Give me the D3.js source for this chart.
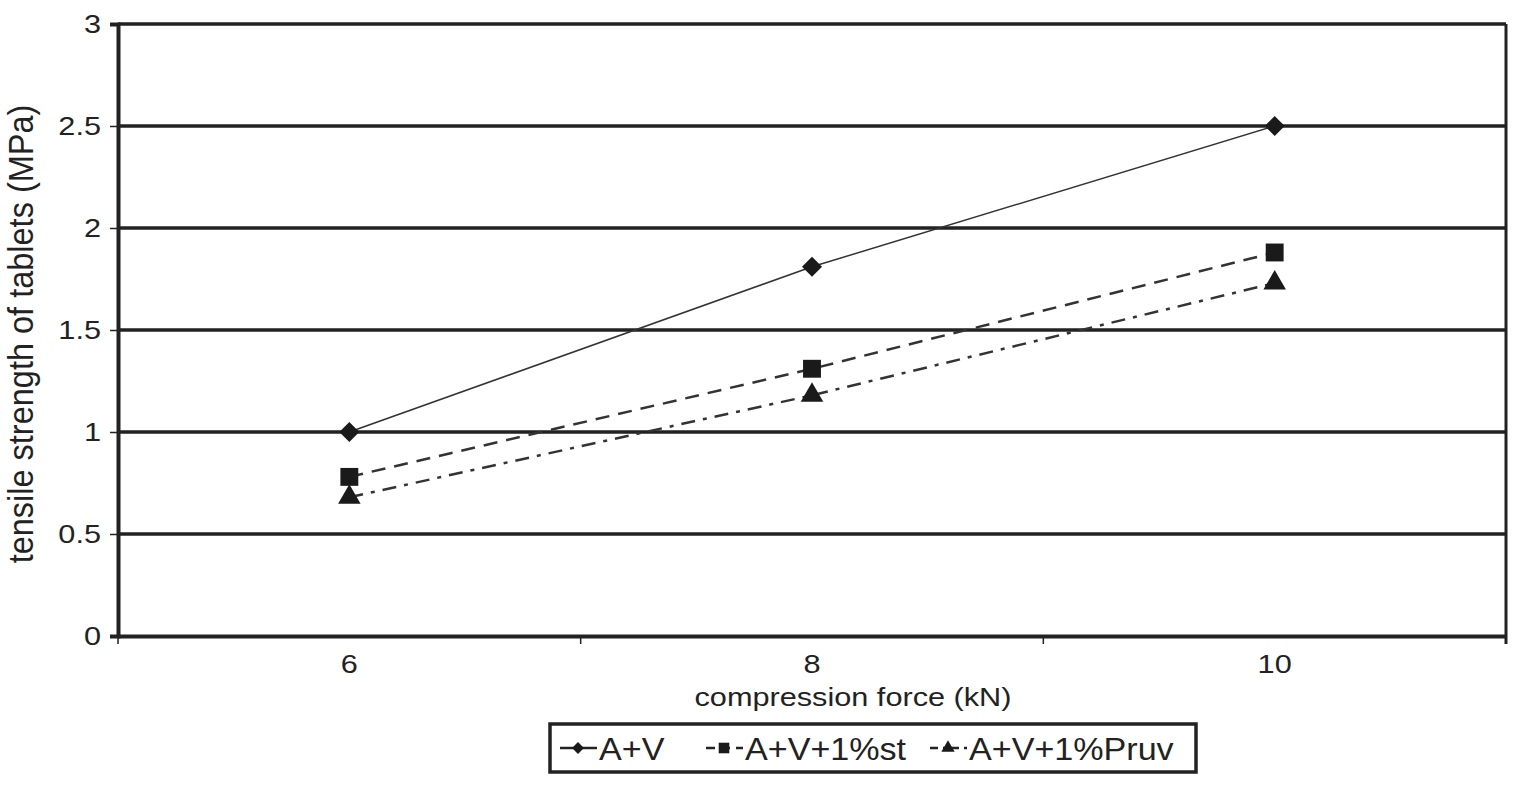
<!DOCTYPE html>
<html>
<head>
<meta charset="utf-8">
<script src="https://cdn.jsdelivr.net/npm/d3@7"></script>
<style>
  body { margin: 0; background: #fff; }
  text { font-family: "Liberation Sans", Arial, sans-serif; fill: #222; }
</style>
</head>
<body>
<svg id="chart" width="1524" height="800"></svg>
<script>
const categories = [6, 8, 10]
const seriesNames = ["A+V", "A+V+1%st", "A+V+1%Pruv"]
const avValues = [1.0, 1.81, 2.5]
const stValues = [0.78, 1.31, 1.88]
const pruvValues = [0.68, 1.18, 1.73]
const yTicks = [0, 0.5, 1, 1.5, 2, 2.5, 3]

const svg = d3.select("#chart")
const margin = { left: 118, top: 24, right: 18, bottom: 164 }
const width = 1524 - margin.left - margin.right
const height = 800 - margin.top - margin.bottom
const STRETCH = 1.18 // the reference text is a bit wide

const g = svg.append("g").attr("transform", `translate(${margin.left},${margin.top})`)

const x = d3.scaleBand().domain(categories).range([0, width])
const y = d3.scaleLinear().domain([0, 3]).range([height, 0])

// grid lines
g.selectAll(".grid").data(yTicks.slice(1)).enter().append("line")
  .attr("x1", 0).attr("x2", width)
  .attr("y1", d => y(d)).attr("y2", d => y(d))
  .attr("stroke", "#222").attr("stroke-width", 3.5)

// right border
g.append("line").attr("x1", width).attr("x2", width).attr("y1", 0).attr("y2", height + 8)
  .attr("stroke", "#222").attr("stroke-width", 3)

// y axis
const yAxis = g.append("g").call(d3.axisLeft(y).tickValues(yTicks).tickSize(8).tickPadding(0)
  .tickFormat(d => d))
yAxis.select(".domain").attr("stroke", "#222").attr("stroke-width", 4)
yAxis.selectAll(".tick line").attr("stroke", "#222").attr("stroke-width", 1.5)
yAxis.selectAll("text").style("font-size", "26px").attr("fill", "#222")
  .attr("x", null).attr("transform", `translate(-17,0) scale(${STRETCH},1)`)

// x axis, ticks between categories
const xAxis = g.append("g").attr("transform", `translate(0,${height})`)
  .call(d3.axisBottom(x).tickSize(0).tickPadding(0))
xAxis.select(".domain").attr("stroke", "#222").attr("stroke-width", 4)
xAxis.selectAll("text").style("font-size", "26px").attr("fill", "#222")
  .attr("y", null).attr("dy", null).attr("transform", `translate(0,37) scale(${STRETCH},1)`)
const bounds = categories.map(c => x(c)).concat([width])
xAxis.selectAll(".sep").data(bounds).enter().append("line")
  .attr("x1", d => d).attr("x2", d => d).attr("y1", 0).attr("y2", 8)
  .attr("stroke", "#222").attr("stroke-width", 1.5)

// titles
svg.append("text").attr("transform", `translate(853,706) scale(${STRETCH},1)`)
  .attr("text-anchor", "middle").style("font-size", "26px").text("compression force (kN)")
svg.append("text").attr("transform", `translate(33,334) scale(1.1,1) rotate(-90)`)
  .attr("text-anchor", "middle").style("font-size", "32.5px").text("tensile strength of tablets (MPa)")

const diamond = { draw(ctx, size) { const r = Math.sqrt(size / 2); ctx.moveTo(0, -r); ctx.lineTo(r, 0); ctx.lineTo(0, r); ctx.lineTo(-r, 0); ctx.closePath() } }

const series = [
  { name: seriesNames[0], values: avValues, dash: null, legendDash: null, width: 1.5, marker: diamond, size: 200 },
  { name: seriesNames[1], values: stValues, dash: "14,9", legendDash: "9,6", width: 2.5, marker: d3.symbolSquare, size: 320 },
  { name: seriesNames[2], values: pruvValues, dash: "14,8,4,8", legendDash: "8,5,3,5", width: 2.5, marker: d3.symbolTriangle, size: 220 }
]

const cx = c => x(c) + x.bandwidth() / 2
const line = d3.line().x((d, i) => cx(categories[i])).y(d => y(d))

series.forEach(s => {
  g.append("path").datum(s.values)
    .attr("d", line).attr("fill", "none")
    .attr("stroke", "#333").attr("stroke-width", s.width)
    .attr("stroke-dasharray", s.dash)
  g.selectAll(null).data(s.values).enter().append("path")
    .attr("d", d3.symbol().type(s.marker).size(s.size))
    .attr("transform", (d, i) => `translate(${cx(categories[i])},${y(d)})`)
    .attr("fill", "#1a1a1a")
})

// legend
const legend = svg.append("g").attr("transform", "translate(550,724)")
legend.append("rect").attr("width", 646).attr("height", 48)
  .attr("fill", "#fff").attr("stroke", "#222").attr("stroke-width", 3.5)
const legendX = [10, 156, 380]
series.forEach((s, i) => {
  const lx = legendX[i]
  legend.append("line").attr("x1", lx).attr("x2", lx + 37).attr("y1", 24).attr("y2", 24)
    .attr("stroke", "#222").attr("stroke-width", 2.5)
    .attr("stroke-dasharray", s.legendDash)
  legend.append("path").attr("d", d3.symbol().type(s.marker).size(s.size * 0.35))
    .attr("transform", `translate(${lx + 18},24)`).attr("fill", "#1a1a1a")
  legend.append("text").attr("transform", `translate(${lx + 39},36) scale(1.1,1)`)
    .style("font-size", "31px").text(s.name)
})
</script>
</body>
</html>
